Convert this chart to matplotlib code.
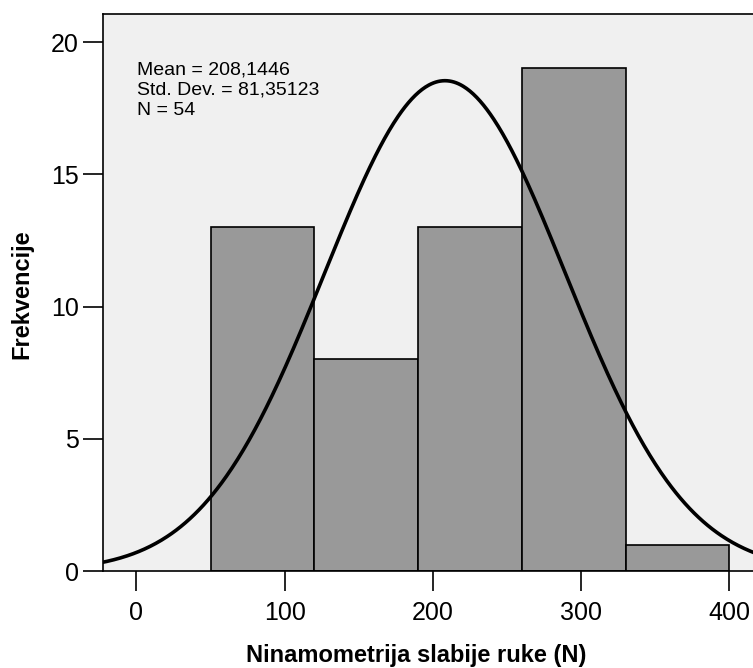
import numpy as np
import matplotlib
matplotlib.use("Agg")
import matplotlib.pyplot as plt

# ----------------------------
# Data
# ----------------------------
bin_edges = [50, 120, 190, 260, 330, 400]
counts = [13, 8, 13, 19, 1]
mean_val = 208.1446
std_val = 81.35123
n_val = 54
x_ticks = [0, 100, 200, 300, 400]
y_ticks = [0, 5, 10, 15, 20]

plt.rcParams['font.family'] = ['Liberation Sans', 'DejaVu Sans']

fig = plt.figure(figsize=(7.53, 6.68), dpi=100)
ax = fig.add_axes([0.1364, 0.1452, 0.8636, 0.8331])
ax.set_facecolor("#f0f0f0")

# bars
edges = np.array(bin_edges, dtype=float)
widths = np.diff(edges)
ax.bar(edges[:-1], counts, width=widths, align="edge",
       color="#999999", edgecolor="black", linewidth=1.2, zorder=2)

# fitted normal curve (scaled to counts)
bw = widths[0]
xs = np.linspace(-30, 430, 600)
ys = n_val * bw * np.exp(-0.5 * ((xs - mean_val) / std_val) ** 2) / (std_val * np.sqrt(2 * np.pi))
ax.plot(xs, ys, color="black", linewidth=2.6, zorder=3)

ax.set_xlim(-22.8, 416)
ax.set_ylim(0, 21.04)
ax.set_xticks(x_ticks)
ax.set_yticks(y_ticks)
ax.tick_params(axis="both", direction="out", length=14.4, width=1.2,
               labelsize=18, colors="black")
ax.tick_params(axis="x", pad=7)
ax.tick_params(axis="y", pad=3)

for s in ["left", "bottom", "top"]:
    ax.spines[s].set_linewidth(1.2)
ax.spines["right"].set_visible(False)

stats_txt = "Mean = %s\nStd. Dev. = %s\nN = %d" % (
    str(mean_val).replace(".", ","), str(std_val).replace(".", ","), n_val)
ax.text(0.053, 0.915, stats_txt, transform=ax.transAxes, fontsize=14,
        va="top", ha="left", linespacing=1.22)

ax.set_xlabel("Ninamometrija slabije ruke (N)", fontsize=17, fontweight="bold")
ax.set_ylabel("Frekvencije", fontsize=17, fontweight="bold")
ax.xaxis.set_label_coords(0.482, -0.131)
ax.yaxis.set_label_coords(-0.107, 0.497)

fig.savefig("out.png", dpi=100)
